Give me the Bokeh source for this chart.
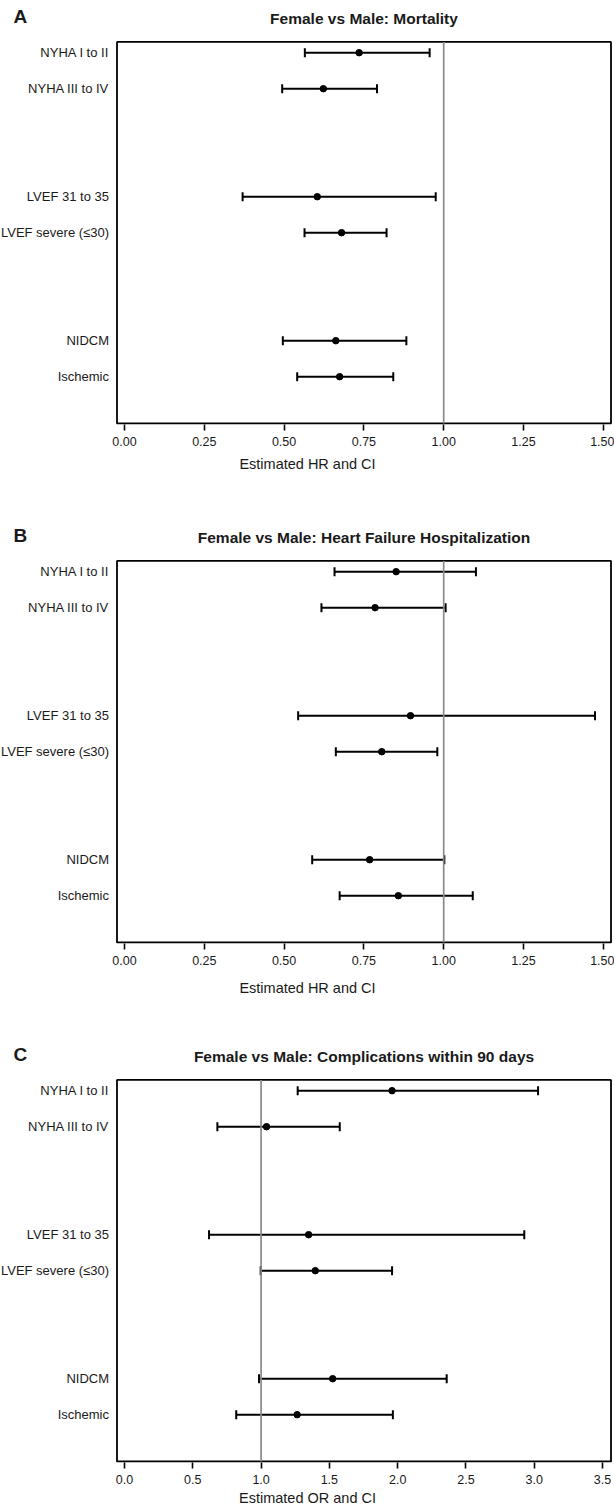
from bokeh.plotting import figure
from bokeh.layouts import column
from bokeh.models import (Range1d, FixedTicker, Whisker, TeeHead,
                          ColumnDataSource, PrintfTickFormatter)
from bokeh.core.properties import value
from bokeh.embed import file_html
from bokeh.resources import INLINE

# ---------------- data ----------------
subgroups = ["NYHA I to II", "NYHA III to IV", "LVEF 31 to 35",
             "LVEF severe (\u226430)", "NIDCM", "Ischemic"]
group_sizes = [2, 2, 2]

mort_est = [0.735, 0.623, 0.604, 0.680, 0.662, 0.674]
mort_lo = [0.565, 0.494, 0.370, 0.564, 0.496, 0.541]
mort_hi = [0.956, 0.791, 0.975, 0.821, 0.883, 0.842]

hfh_est = [0.851, 0.785, 0.896, 0.806, 0.768, 0.858]
hfh_lo = [0.658, 0.617, 0.544, 0.662, 0.588, 0.674]
hfh_hi = [1.101, 1.006, 1.474, 0.980, 1.002, 1.091]

comp_est = [1.959, 1.040, 1.348, 1.397, 1.524, 1.264]
comp_lo = [1.268, 0.680, 0.619, 0.997, 0.985, 0.818]
comp_hi = [3.028, 1.576, 2.927, 1.959, 2.359, 1.965]

hr_ticks = [0.0, 0.25, 0.5, 0.75, 1.0, 1.25, 1.5]
or_ticks = [0.0, 0.5, 1.0, 1.5, 2.0, 2.5, 3.0, 3.5]
null_value = 1.0

titles = ["Female vs Male: Mortality",
          "Female vs Male: Heart Failure Hospitalization",
          "Female vs Male: Complications within 90 days"]
letters = ["A", "B", "C"]
axis_labels = ["Estimated HR and CI", "Estimated HR and CI", "Estimated OR and CI"]

# row slots: groups separated by two empty rows
slots = []
s = 0
for g in group_sizes:
    for _ in range(g):
        slots.append(s)
        s += 1
    s += 2

FONT = "Liberation Sans"
TXT = "#1a1a1a"
W = 614
FRAME_H = 424
ROW_PX = 36.0
BOX_TOP = -0.3
BOX_BOTTOM = slots[-1] + 1.3
Y_START = BOX_BOTTOM + 1 / ROW_PX
Y_END = Y_START - FRAME_H / ROW_PX


def make_panel(letter, title, est, lo, hi, ticks, fmt, x_zero_px, unit_px,
               box_left_px, box_right_px, axis_label, height, label_standoff):
    x_start = -x_zero_px / unit_px
    x_end = (W - x_zero_px) / unit_px
    box_left = (box_left_px - x_zero_px) / unit_px
    box_right = (box_right_px - x_zero_px) / unit_px

    p = figure(width=W, height=height, output_backend="svg",
               toolbar_location=None, y_axis_location=None,
               x_range=Range1d(x_start, x_end),
               y_range=Range1d(Y_START, Y_END),
               min_border_left=0, min_border_right=0, min_border_top=0,
               min_border_bottom=height - FRAME_H)
    p.grid.visible = False
    p.outline_line_color = None

    # plot box
    p.quad(left=[box_left], right=[box_right], top=[BOX_TOP], bottom=[BOX_BOTTOM],
           fill_color=None, line_color="black", line_width=1.8)

    # reference line
    p.segment(x0=[null_value], x1=[null_value], y0=[BOX_TOP], y1=[BOX_BOTTOM],
              line_color="#8a8a8a", line_width=1.7)

    src = ColumnDataSource(dict(y=slots, est=est, lo=lo, hi=hi, name=subgroups))

    wh = Whisker(base="y", lower="lo", upper="hi", dimension="width",
                 source=src, line_color="black", line_width=2,
                 upper_head=TeeHead(size=9, line_color="black", line_width=2),
                 lower_head=TeeHead(size=9, line_color="black", line_width=2))
    p.add_layout(wh)
    p.scatter(x="est", y="y", source=src, size=6.5, color="black")

    # row labels
    p.text(x=box_left, y="y", text="name", source=src, x_offset=-8,
           text_align="right", text_baseline="middle",
           text_font=value(FONT), text_font_size="13px", text_color=TXT)

    # title and panel letter
    p.text(x=[(box_left + box_right) / 2], y=[BOX_TOP - 23 / ROW_PX], text=[title],
           text_align="center", text_baseline="middle",
           text_font=value(FONT), text_font_size="15.5px", text_font_style="bold",
           text_color=TXT)
    p.text(x=[x_start + 13 / unit_px], y=[BOX_TOP - 25.5 / ROW_PX], text=[letter],
           text_align="left", text_baseline="middle",
           text_font=value(FONT), text_font_size="19px", text_font_style="bold",
           text_color=TXT)

    # x axis
    xa = p.xaxis[0]
    xa.ticker = FixedTicker(ticks=ticks)
    xa.formatter = PrintfTickFormatter(format=fmt)
    xa.minor_tick_line_color = None
    xa.major_tick_in = 0
    xa.major_tick_out = 6
    xa.major_tick_line_width = 1.6
    xa.major_tick_line_color = "black"
    xa.axis_line_color = None
    xa.major_label_text_font = FONT
    xa.major_label_text_font_size = "12.5px"
    xa.major_label_text_color = TXT
    xa.major_label_standoff = 6
    xa.axis_label = axis_label
    xa.axis_label_text_font = FONT
    xa.axis_label_text_font_size = "14.5px"
    xa.axis_label_text_font_style = "normal"
    xa.axis_label_text_color = TXT
    xa.axis_label_standoff = label_standoff
    return p


pA = make_panel(letters[0], titles[0], mort_est, mort_lo, mort_hi, hr_ticks, "%.2f",
                124.0, 319.2, 116.5, 610.5, axis_labels[0], 519, 7)
pB = make_panel(letters[1], titles[1], hfh_est, hfh_lo, hfh_hi, hr_ticks, "%.2f",
                124.0, 319.2, 116.5, 610.5, axis_labels[1], 519, 12)
pC = make_panel(letters[2], titles[2], comp_est, comp_lo, comp_hi, or_ticks, "%.1f",
                124.0, 136.58, 116.5, 610.5, axis_labels[2], 471, 3)

layout = column(pA, pB, pC, spacing=0)
open("out.html", "w").write(file_html(layout, INLINE))
